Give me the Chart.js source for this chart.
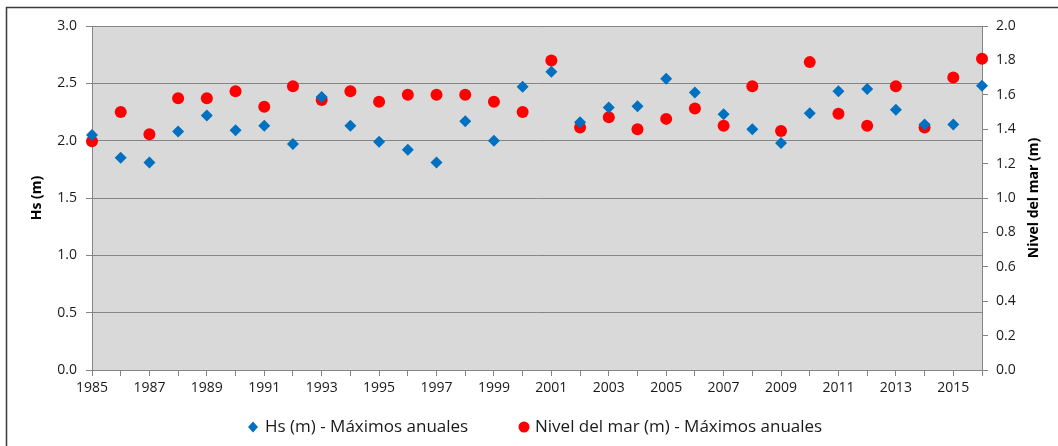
<!DOCTYPE html>
<html>
<head>
<meta charset="utf-8">
<script src="https://cdn.jsdelivr.net/npm/chart.js@4/dist/chart.umd.min.js"></script>
<style>
  html, body { margin: 0; padding: 0; background: #ffffff; }
  #wrap { width: 1058px; height: 446px; position: relative; }
</style>
</head>
<body>
<div id="wrap"><canvas id="c" width="1058" height="446"></canvas></div>
<script>
const years = [1985,1986,1987,1988,1989,1990,1991,1992,1993,1994,1995,1996,1997,1998,1999,2000,
               2001,2002,2003,2004,2005,2006,2007,2008,2009,2010,2011,2012,2013,2014,2015,2016];
const hsMax = [2.05,1.85,1.81,2.08,2.22,2.09,2.13,1.97,2.38,2.13,1.99,1.92,1.81,2.17,2.00,2.47,
               2.60,2.16,2.29,2.30,2.54,2.42,2.23,2.10,1.98,2.24,2.43,2.45,2.27,2.14,2.14,2.48];
const nivelMax = [1.33,1.50,1.37,1.58,1.58,1.62,1.53,1.65,1.57,1.62,1.56,1.60,1.60,1.60,1.56,1.50,
                  1.80,1.41,1.47,1.40,1.46,1.52,1.42,1.65,1.39,1.79,1.49,1.42,1.65,1.41,1.70,1.81];
const seriesNames = ['Hs (m) - Máximos anuales', 'Nivel del mar (m) - Máximos anuales'];
const leftTitle = 'Hs (m)';
const rightTitle = 'Nivel del mar (m)';

const FONT = "'Open Sans', 'DejaVu Sans', sans-serif";
const GRID = '#858585';
const BLUE = '#0070C0';
const RED = '#FF0000';
const TXT = '#1a1a1a';

const bgPlugin = {
  id: 'bg',
  beforeDraw(chart) {
    const {ctx, chartArea: a} = chart;
    ctx.save();
    ctx.fillStyle = '#ffffff';
    ctx.fillRect(0, 0, chart.width, chart.height);
    ctx.fillStyle = '#D9D9D9';
    ctx.fillRect(a.left, a.top, a.right - a.left, a.bottom - a.top);
    ctx.strokeStyle = '#3a3a3a';
    ctx.lineWidth = 1.5;
    ctx.beginPath();
    ctx.moveTo(6.5, chart.height);
    ctx.lineTo(6.5, 7.5);
    ctx.lineTo(chart.width, 7.5);
    ctx.stroke();
    ctx.restore();
  },
  afterDraw(chart) {
    const {ctx, chartArea: a} = chart;
    ctx.save();
    ctx.fillStyle = '#000';
    ctx.font = "bold 14px " + FONT;
    ctx.textAlign = 'center';
    ctx.textBaseline = 'middle';
    ctx.translate(1034, (a.top + a.bottom) / 2);
    ctx.rotate(-Math.PI / 2);
    ctx.fillText(rightTitle, 0, 0);
    ctx.restore();

    ctx.save();
    const ly = 427;
    ctx.font = "17px " + FONT;
    ctx.textBaseline = 'middle';
    ctx.textAlign = 'left';
    ctx.fillStyle = BLUE;
    ctx.beginPath();
    ctx.moveTo(253 - 5, ly); ctx.lineTo(253, ly - 5.5); ctx.lineTo(253 + 5, ly); ctx.lineTo(253, ly + 5.5);
    ctx.closePath(); ctx.fill();
    ctx.fillStyle = TXT;
    ctx.fillText(seriesNames[0], 265, ly);
    ctx.fillStyle = RED;
    ctx.beginPath();
    ctx.arc(524, ly, 5.5, 0, Math.PI * 2);
    ctx.fill();
    ctx.fillStyle = TXT;
    ctx.fillText(seriesNames[1], 535, ly);
    ctx.restore();
  }
};

new Chart(document.getElementById('c'), {
  type: 'scatter',
  data: {
    datasets: [
      {
        label: seriesNames[0],
        data: years.map((y, i) => ({x: y, y: hsMax[i]})),
        yAxisID: 'y',
        pointStyle: 'rectRot',
        pointRadius: 6,
        pointHoverRadius: 6,
        backgroundColor: BLUE,
        borderColor: BLUE,
        borderWidth: 0,
        clip: false
      },
      {
        label: seriesNames[1],
        data: years.map((y, i) => ({x: y, y: nivelMax[i]})),
        yAxisID: 'y2',
        pointStyle: 'circle',
        pointRadius: 6,
        pointHoverRadius: 6,
        backgroundColor: RED,
        borderColor: RED,
        borderWidth: 0,
        clip: false
      }
    ]
  },
  options: {
    responsive: false,
    animation: false,
    events: [],
    layout: { padding: { left: 7, top: 26, right: 0, bottom: 46 } },
    plugins: { legend: { display: false }, tooltip: { enabled: false } },
    scales: {
      x: {
        type: 'linear',
        min: 1985, max: 2016,
        afterFit(s) { s.height = 30; },
        ticks: {
          stepSize: 1, autoSkip: false, maxRotation: 0, minRotation: 0,
          padding: 4,
          color: TXT,
          font: { family: FONT, size: 14 },
          callback: (v) => ((v - 1985) % 2 === 0 && v < 2016) ? String(v) : ''
        },
        grid: { drawOnChartArea: false, drawTicks: true, tickLength: 6, tickColor: GRID },
        border: { display: true, color: GRID, width: 1 }
      },
      y: {
        position: 'left',
        min: 0, max: 3,
        afterFit(s) { s.width = 85; },
        ticks: {
          stepSize: 0.5, padding: 9, color: TXT,
          font: { family: FONT, size: 14 },
          callback: (v) => v.toFixed(1)
        },
        grid: { color: GRID, lineWidth: 1, drawTicks: true, tickLength: 6, tickColor: GRID },
        border: { display: true, color: GRID, width: 1 },
        title: { display: true, text: leftTitle, color: '#000',
                 font: { family: FONT, size: 14, weight: 'bold' }, padding: { top: 22, bottom: 0 } }
      },
      y2: {
        position: 'right',
        min: 0, max: 2,
        afterFit(s) { s.width = 76; },
        ticks: {
          stepSize: 0.2, padding: 8, color: TXT,
          font: { family: FONT, size: 14 },
          callback: (v) => v.toFixed(1)
        },
        grid: { drawOnChartArea: false, drawTicks: true, tickLength: 6, tickColor: GRID },
        border: { display: true, color: GRID, width: 1 }
      }
    }
  },
  plugins: [bgPlugin]
});
</script>
</body>
</html>
